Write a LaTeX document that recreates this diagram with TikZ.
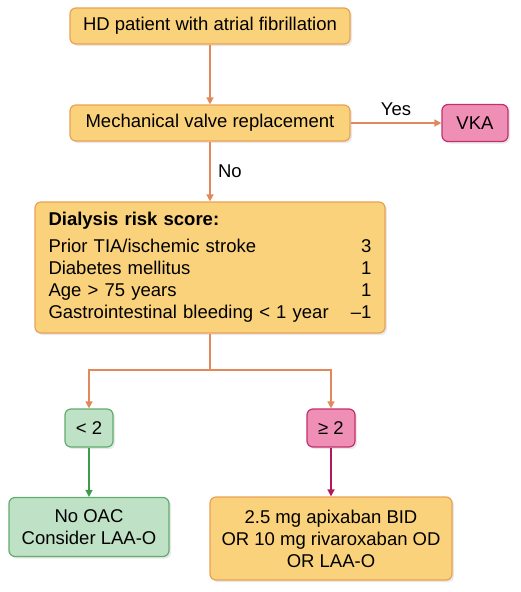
\documentclass[tikz,border=0pt]{standalone}
\usepackage{fontspec}
\setmainfont{Liberation Sans}
\usepackage{tikz}
\usetikzlibrary{arrows.meta,shadows}
\definecolor{FlowAmber}{HTML}{FAD27C}
\definecolor{FlowAmberEdge}{HTML}{E9A152}
\definecolor{FlowArrow}{HTML}{E2895C}
\definecolor{FlowPink}{HTML}{F08FB6}
\definecolor{FlowPinkEdge}{HTML}{C3306C}
\definecolor{FlowPinkArrow}{HTML}{B3185C}
\definecolor{FlowGreen}{HTML}{BFE2C6}
\definecolor{FlowGreenEdge}{HTML}{62AC6E}
\definecolor{FlowGreenArrow}{HTML}{3E9B48}

\begin{document}
\begin{tikzpicture}[x=1pt,y=-1pt,>={Triangle[length=7pt,width=7pt]},
  flowbox/.style={rounded corners=6pt,line width=1.2pt,align=center,
    font=\fontsize{18.5}{22}\selectfont,inner sep=0pt,
    drop shadow={shadow xshift=2pt,shadow yshift=-2pt,opacity=0.18}},
  decision/.style={flowbox,draw=FlowAmberEdge,fill=FlowAmber},
  alert/.style={flowbox,draw=FlowPinkEdge,fill=FlowPink},
  safe/.style={flowbox,draw=FlowGreenEdge,fill=FlowGreen},
  link/.style={->,draw=FlowArrow,line width=1.5pt}]
  \useasboundingbox (0,0) rectangle (520,592);
  \node[decision,minimum width=280pt,minimum height=36pt] (patient) at (210,26)
    {HD patient with atrial fibrillation};
  \node[decision,minimum width=280pt,minimum height=36pt] (valve) at (210,123)
    {Mechanical valve replacement};
  \node[alert,minimum width=66pt,minimum height=37pt] (vka) at (475,123) {VKA};
  \node[decision,minimum width=350pt,minimum height=131pt,align=left,
    text width=323pt,inner xsep=13.5pt] (score) at (210,267.5)
    {\textbf{Dialysis risk score:}\\[5pt]
     Prior TIA/ischemic stroke\hfill 3\\
     Diabetes mellitus\hfill 1\\
     Age > 75 years\hfill 1\\
     Gastrointestinal bleeding < 1 year\hfill --1};
  \coordinate (split) at (210,370);
  \node[safe,minimum width=48pt,minimum height=38pt] (low) at (89,428) {< 2};
  \node[alert,minimum width=48pt,minimum height=38pt] (high) at (331,428) {≥ 2};
  \node[safe,minimum width=160pt,minimum height=59pt] (noac) at (89,527)
    {No OAC\\Consider LAA-O};
  \node[decision,minimum width=242pt,minimum height=83pt] (treat) at (331,538.5)
    {2.5 mg apixaban BID\\OR 10 mg rivaroxaban OD\\OR LAA-O};
  \draw[link] (patient) -- (valve);
  \draw[link] (valve) -- node[above=3pt,font=\fontsize{18.5}{22}\selectfont] {Yes} (vka);
  \draw[link] (valve) -- node[right=4pt,font=\fontsize{18.5}{22}\selectfont] {No} (score);
  \draw[draw=FlowArrow,line width=1.5pt] (score) -- (split);
  \draw[link] (split) -| (low);
  \draw[link] (split) -| (high);
  \draw[->,draw=FlowGreenArrow,line width=1.5pt] (low) -- (noac);
  \draw[->,draw=FlowPinkArrow,line width=1.5pt] (high) -- (treat);
\end{tikzpicture}
\end{document}
